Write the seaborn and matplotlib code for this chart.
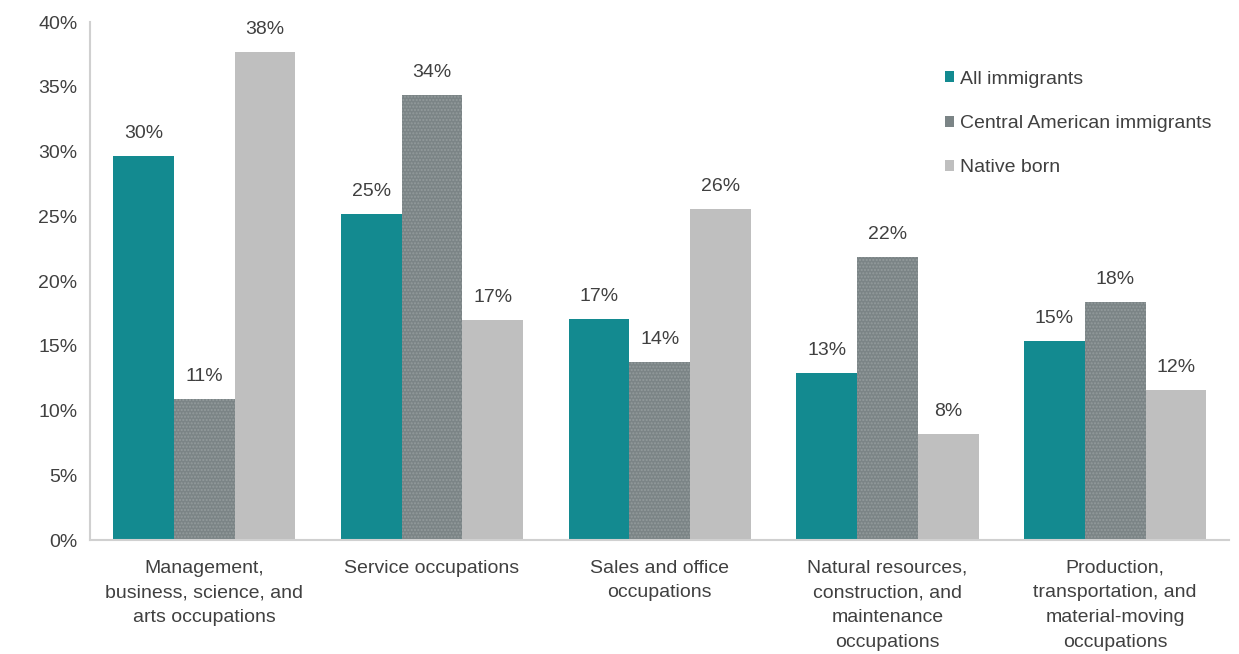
import pandas as pd
import seaborn as sns
import matplotlib.pyplot as plt

categories = ['Management,\nbusiness, science, and\narts occupations',
              'Service occupations',
              'Sales and office\noccupations',
              'Natural resources,\nconstruction, and\nmaintenance\noccupations',
              'Production,\ntransportation, and\nmaterial-moving\noccupations']
groups = ['All immigrants', 'Central American immigrants', 'Native born']

all_immigrants = [29.7, 25.2, 17.1, 12.9, 15.4]
central_american = [10.9, 34.4, 13.8, 21.9, 18.4]
native_born = [37.7, 17.0, 25.6, 8.2, 11.6]

colors = ['#138a90', '#7b8486', '#bfbfbf']

df = pd.DataFrame({
    'category': categories * 3,
    'group': [g for g in groups for _ in categories],
    'share': all_immigrants + central_american + native_born,
})

sns.set_theme(style='white')
plt.rcParams['font.family'] = ['Liberation Sans', 'DejaVu Sans']
fs = 14

fig = plt.figure(figsize=(12.39, 6.54), dpi=100)
ax = fig.add_axes([0.073, 0.174, 0.919, 0.792])

sns.barplot(data=df, x='category', y='share', hue='group', palette=colors,
            width=0.8, saturation=1, linewidth=0, ax=ax)

# texture on the Central American bars
for bar in ax.containers[1]:
    bar.set_hatch('.....')
    bar.set_edgecolor('#939b9c')
for cont in ax.containers:
    for bar in cont:
        bar.set_linewidth(0)

for cont in ax.containers:
    ax.bar_label(cont, labels=[f'{v:.0f}%' for v in cont.datavalues],
                 padding=10, fontsize=fs, color='#404040')

ax.set_ylim(0, 40)
ax.set_xlim(-0.5, 4.5)
ax.set_yticks(range(0, 41, 5))
ax.set_yticklabels([f'{t}%' for t in range(0, 41, 5)], fontsize=fs, color='#404040')
ax.tick_params(axis='x', labelsize=fs, labelcolor='#404040', pad=8)
for lab in ax.get_xticklabels():
    lab.set_linespacing(1.6)
ax.set_xlabel('')
ax.set_ylabel('')
sns.despine(ax=ax)
for s in ['left', 'bottom']:
    ax.spines[s].set_color('#d0d0d0')
    ax.spines[s].set_linewidth(1.5)

leg = ax.legend(loc='upper right', bbox_to_anchor=(1.0, 0.94), frameon=False,
                fontsize=fs, handlelength=0.5, handleheight=0.5,
                handletextpad=0.3, labelspacing=1.4)
for t in leg.get_texts():
    t.set_color('#404040')

fig.savefig('out.png', dpi=100)
